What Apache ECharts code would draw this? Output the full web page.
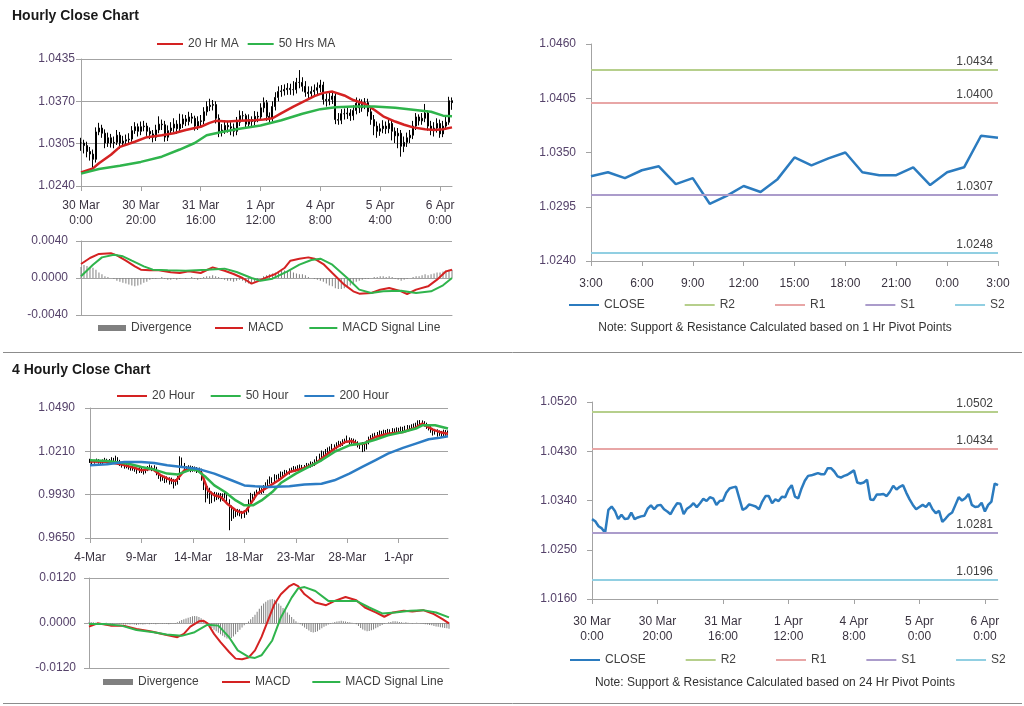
<!DOCTYPE html>
<html><head><meta charset="utf-8">
<script src="https://cdn.jsdelivr.net/npm/echarts@6/dist/echarts.min.js"></script>
<style>html,body{margin:0;padding:0;background:#fff}#c{width:1024px;height:706px}</style>
</head><body><div id="c"></div>
<script>
// ---------------- Hourly (30 Mar - 6 Apr) ----------------
const hourlyTicks = ['30 Mar\n0:00','30 Mar\n20:00','31 Mar\n16:00','1 Apr\n12:00','4 Apr\n8:00','5 Apr\n4:00','6 Apr\n0:00'];
const hourlyTicksPivot = ['30 Mar\n0:00','30 Mar\n20:00','31 Mar\n16:00','1 Apr\n12:00','4 Apr\n8:00','5 Apr\n0:00','6 Apr\n0:00'];
const hourlyClose = [
1.0306,1.0302,1.0293,1.0289,1.0281,1.0323,1.0329,1.0321,1.0306,1.0314,
1.0306,1.0307,1.0318,1.0306,1.0309,1.0311,1.0312,1.0325,1.0331,1.0324,
1.0331,1.0332,1.0324,1.0320,1.0315,1.0326,1.0335,1.0334,1.0315,1.0325,
1.0329,1.0335,1.0328,1.0335,1.0343,1.0339,1.0346,1.0344,1.0332,1.0339,
1.0340,1.0354,1.0362,1.0364,1.0365,1.0344,1.0323,1.0326,1.0333,1.0331,
1.0329,1.0324,1.0338,1.0348,1.0348,1.0335,1.0342,1.0339,1.0347,1.0346,
1.0360,1.0368,1.0347,1.0344,1.0362,1.0376,1.0385,1.0386,1.0388,1.0390,
1.0388,1.0388,1.0399,1.0399,1.0393,1.0384,1.0382,1.0385,1.0387,1.0391,
1.0395,1.0373,1.0371,1.0373,1.0378,1.0342,1.0341,1.0351,1.0351,1.0352,
1.0348,1.0356,1.0367,1.0360,1.0365,1.0368,1.0354,1.0342,1.0332,1.0324,
1.0328,1.0332,1.0328,1.0336,1.0324,1.0317,1.0321,1.0301,1.0307,1.0314,
1.0318,1.0332,1.0346,1.0340,1.0344,1.0352,1.0332,1.0328,1.0329,1.0336,
1.0320,1.0332,1.0338,1.0371,1.0368];
const hourlyHigh = [
1.0314,1.0311,1.0308,1.0300,1.0296,1.0330,1.0337,1.0334,1.0327,1.0322,
1.0320,1.0316,1.0326,1.0323,1.0317,1.0319,1.0321,1.0332,1.0338,1.0336,
1.0339,1.0340,1.0337,1.0330,1.0326,1.0334,1.0347,1.0342,1.0340,1.0333,
1.0338,1.0344,1.0341,1.0351,1.0350,1.0349,1.0354,1.0352,1.0348,1.0347,
1.0349,1.0361,1.0370,1.0374,1.0372,1.0370,1.0350,1.0335,1.0341,1.0340,
1.0338,1.0336,1.0346,1.0356,1.0355,1.0351,1.0350,1.0347,1.0355,1.0354,
1.0367,1.0376,1.0372,1.0353,1.0370,1.0384,1.0393,1.0395,1.0396,1.0398,
1.0397,1.0401,1.0406,1.0418,1.0407,1.0401,1.0393,1.0393,1.0396,1.0399,
1.0403,1.0400,1.0382,1.0384,1.0386,1.0384,1.0352,1.0358,1.0359,1.0360,
1.0358,1.0364,1.0376,1.0374,1.0373,1.0375,1.0374,1.0361,1.0349,1.0339,
1.0336,1.0341,1.0339,1.0344,1.0342,1.0330,1.0329,1.0326,1.0316,1.0322,
1.0326,1.0340,1.0352,1.0350,1.0352,1.0366,1.0356,1.0340,1.0338,1.0344,
1.0342,1.0340,1.0346,1.0377,1.0376];
const hourlyLow = [
1.0294,1.0290,1.0284,1.0279,1.0268,1.0276,1.0318,1.0314,1.0298,1.0300,
1.0299,1.0298,1.0303,1.0297,1.0300,1.0302,1.0304,1.0308,1.0320,1.0316,
1.0318,1.0324,1.0317,1.0312,1.0307,1.0309,1.0321,1.0326,1.0308,1.0309,
1.0319,1.0323,1.0320,1.0322,1.0329,1.0332,1.0333,1.0336,1.0325,1.0326,
1.0331,1.0335,1.0348,1.0355,1.0356,1.0336,1.0315,1.0316,1.0320,1.0322,
1.0318,1.0316,1.0318,1.0332,1.0340,1.0328,1.0329,1.0331,1.0333,1.0338,
1.0340,1.0353,1.0340,1.0337,1.0339,1.0356,1.0370,1.0377,1.0379,1.0380,
1.0380,1.0379,1.0382,1.0390,1.0385,1.0377,1.0374,1.0375,1.0378,1.0380,
1.0384,1.0365,1.0362,1.0364,1.0366,1.0335,1.0334,1.0335,1.0342,1.0343,
1.0340,1.0341,1.0350,1.0352,1.0354,1.0358,1.0347,1.0334,1.0318,1.0314,
1.0317,1.0321,1.0320,1.0321,1.0310,1.0306,1.0298,1.0285,1.0292,1.0300,
1.0306,1.0312,1.0326,1.0333,1.0334,1.0338,1.0325,1.0318,1.0316,1.0322,
1.0314,1.0315,1.0326,1.0334,1.0357];
const hourlyMA20 = [[0,1.0261],[4,1.0267],[6,1.0275],[10,1.0288],[13,1.0300],[18,1.0308],[22,1.0315],[27,1.0318],[31,1.0321],[35,1.0326],[40,1.0331],[43,1.0337],[45,1.0340],[49,1.0339],[53,1.0340],[58,1.0341],[61,1.0342],[64,1.0344],[67,1.0352],[71,1.0362],[75,1.0371],[78,1.0378],[81,1.0383],[84,1.0385],[88,1.0379],[91,1.0372],[95,1.0366],[98,1.0357],[101,1.0347],[105,1.0339],[108,1.0334],[111,1.0330],[115,1.0327],[118,1.0326],[121,1.0327],[124,1.0330]];
const hourlyMA50 = [[0,1.0259],[6,1.0266],[13,1.0271],[20,1.0277],[27,1.0285],[33,1.0296],[38,1.0306],[42,1.0318],[47,1.0323],[53,1.0328],[60,1.0333],[67,1.0341],[74,1.0351],[80,1.0358],[85,1.0361],[91,1.0362],[98,1.0362],[105,1.0360],[111,1.0357],[117,1.0354],[121,1.0348],[124,1.0347]];
const hourlyMacd = [[0,0.00151],[3,0.00216],[6,0.0026],[10,0.00267],[12,0.00245],[15,0.00187],[18,0.00126],[20,0.0009],[23,0.00083],[26,0.00083],[30,0.00061],[33,0.00054],[36,0.00072],[40,0.00054],[44,0.00115],[48,0.00079],[51,0.00043],[54,0],[57,-0.00061],[59,-0.00036],[62,0.00007],[65,0.00043],[68,0.00108],[70,0.00187],[73,0.00209],[76,0.00223],[78,0.00209],[81,0.00151],[84,0.00054],[88,-0.00072],[91,-0.00144],[93,-0.00169],[97,-0.00162],[100,-0.00126],[103,-0.00108],[107,-0.00144],[109,-0.00173],[112,-0.00126],[116,-0.0009],[119,-0.00018],[122,0.00072],[124,0.0009]];
const hourlySignal = [[0,0.00018],[4,0.00144],[7,0.00223],[11,0.00252],[14,0.00234],[17,0.00187],[21,0.00126],[24,0.0009],[29,0.00083],[35,0.00079],[42,0.0009],[48,0.00101],[52,0.00065],[57,0],[60,-0.00029],[64,-0.00007],[69,0.00072],[73,0.00144],[77,0.00195],[80,0.00209],[84,0.00144],[89,0],[93,-0.00126],[97,-0.00162],[101,-0.00144],[107,-0.00137],[112,-0.00162],[117,-0.00144],[121,-0.00079],[124,0]];
const hourlyDiv = [
0.0012,0.0014,0.0013,0.0012,0.0011,0.0009,0.0006,0.0004,0.0002,0.0001,
0,-0.0001,-0.0003,-0.0004,-0.0005,-0.0006,-0.0007,-0.0008,-0.0009,-0.0008,
-0.0007,-0.0005,-0.0004,-0.0002,-0.0001,-0.0001,0,0.0001,-0.0001,-0.0002,
-0.0002,-0.0001,-0.0002,-0.0001,0,-0.0001,0,0.0001,-0.0001,-0.0002,
-0.0001,0.0001,0.0002,0.0002,0.0003,0.0002,0.0001,-0.0001,-0.0002,-0.0003,
-0.0003,-0.0004,-0.0003,-0.0002,-0.0003,-0.0005,-0.0006,-0.0005,-0.0004,-0.0002,
0,0.0002,0.0003,0.0004,0.0005,0.0006,0.0007,0.0008,0.0008,0.0007,
0.0008,0.0006,0.0005,0.0004,0.0004,0.0003,0.0001,0,-0.0001,-0.0002,
-0.0003,-0.0004,-0.0006,-0.0008,-0.0009,-0.0011,-0.0012,-0.0012,-0.0011,-0.0010,
-0.0008,-0.0006,-0.0004,-0.0003,-0.0002,-0.0001,-0.0001,0,0.0001,0.0001,
0.0002,0.0002,0.0001,0.0002,0.0001,-0.0001,-0.0002,-0.0003,-0.0002,-0.0001,
0,0.0001,0.0002,0.0002,0.0003,0.0004,0.0003,0.0004,0.0005,0.0006,
0.0006,0.0007,0.0008,0.0009,0.0009];

// ---------------- Hourly pivot (last 24 hours) ----------------
const pivotHours = ['3:00','4:00','5:00','6:00','7:00','8:00','9:00','10:00','11:00','12:00','13:00','14:00','15:00','16:00','17:00','18:00','19:00','20:00','21:00','22:00','23:00','0:00','1:00','2:00','3:00'];
const pivotClose = [1.0326,1.0330,1.0324,1.0332,1.0336,1.0318,1.0324,1.0298,1.0306,1.0316,1.0310,1.0323,1.0345,1.0337,1.0344,1.0350,1.0330,1.0327,1.0327,1.0335,1.0317,1.0330,1.0335,1.0367,1.0365];
const pivotNames = ['R2','R1','S1','S2'];
const pivot1hLevels = [1.0434, 1.0400, 1.0307, 1.0248];
const pivot1hLabels = ['1.0434','1.0400','1.0307','1.0248'];
const pivot24hLevels = [1.0502, 1.0434, 1.0281, 1.0196];
const pivot24hLabels = ['1.0502','1.0434','1.0281','1.0196'];

// ---------------- 4 Hourly (4 Mar - 6 Apr) ----------------
const fourTicks = ['4-Mar','9-Mar','14-Mar','18-Mar','23-Mar','28-Mar','1-Apr'];
const fourClose = [
1.0150,1.0138,1.0145,1.0152,1.0140,1.0135,1.0148,1.0155,1.0142,1.0150,
1.0160,1.0145,1.0165,1.0150,1.0128,1.0120,1.0110,1.0125,1.0105,1.0098,
1.0102,1.0090,1.0080,1.0095,1.0085,1.0078,1.0090,1.0100,1.0108,1.0095,
1.0102,1.0070,1.0050,1.0035,1.0040,1.0025,1.0030,1.0015,1.0020,1.0005,
1.0010,1.0030,1.0150,1.0120,1.0100,1.0095,1.0105,1.0090,1.0100,1.0095,
1.0085,1.0090,1.0040,0.9985,0.9940,0.9960,0.9935,0.9900,0.9930,0.9915,
0.9925,0.9905,0.9920,0.9930,0.9890,0.9840,0.9830,0.9800,0.9810,0.9820,
0.9810,0.9795,0.9815,0.9825,0.9880,0.9920,0.9905,0.9935,0.9945,0.9960,
0.9950,0.9975,0.9990,1.0010,1.0030,1.0020,1.0045,1.0040,1.0050,1.0065,
1.0060,1.0075,1.0070,1.0085,1.0090,1.0100,1.0092,1.0105,1.0110,1.0100,
1.0108,1.0120,1.0115,1.0130,1.0125,1.0140,1.0160,1.0175,1.0195,1.0185,
1.0205,1.0215,1.0225,1.0240,1.0230,1.0250,1.0260,1.0255,1.0270,1.0275,
1.0290,1.0270,1.0280,1.0275,1.0265,1.0250,1.0240,1.0255,1.0230,1.0265,
1.0290,1.0300,1.0310,1.0315,1.0320,1.0330,1.0325,1.0335,1.0330,1.0340,
1.0335,1.0345,1.0340,1.0350,1.0345,1.0355,1.0350,1.0360,1.0365,1.0358,
1.0370,1.0375,1.0380,1.0390,1.0400,1.0395,1.0385,1.0370,1.0360,1.0345,
1.0330,1.0340,1.0325,1.0330,1.0320,1.0335,1.0325,1.0330];
const fourHigh = [
1.0162,1.0158,1.0155,1.0163,1.0160,1.0150,1.0158,1.0168,1.0162,1.0160,
1.0172,1.0168,1.0182,1.0172,1.0155,1.0138,1.0130,1.0138,1.0132,1.0115,
1.0115,1.0110,1.0098,1.0108,1.0105,1.0095,1.0105,1.0115,1.0125,1.0118,
1.0120,1.0110,1.0082,1.0062,1.0058,1.0052,1.0048,1.0042,1.0040,1.0032,
1.0030,1.0050,1.0178,1.0170,1.0135,1.0115,1.0120,1.0118,1.0115,1.0112,
1.0108,1.0105,1.0098,1.0050,1.0000,0.9985,0.9975,0.9950,0.9948,0.9945,
0.9942,0.9940,0.9938,0.9945,0.9940,0.9900,0.9860,0.9845,0.9830,0.9838,
0.9835,0.9825,0.9830,0.9842,0.9900,0.9942,0.9935,0.9950,0.9962,0.9978,
0.9972,0.9992,1.0010,1.0028,1.0048,1.0042,1.0062,1.0058,1.0065,1.0080,
1.0078,1.0090,1.0088,1.0100,1.0105,1.0115,1.0112,1.0120,1.0125,1.0122,
1.0122,1.0135,1.0132,1.0145,1.0142,1.0158,1.0178,1.0195,1.0215,1.0210,
1.0225,1.0235,1.0242,1.0258,1.0255,1.0268,1.0278,1.0275,1.0288,1.0292,
1.0312,1.0300,1.0295,1.0292,1.0285,1.0275,1.0262,1.0270,1.0265,1.0280,
1.0305,1.0315,1.0325,1.0330,1.0335,1.0345,1.0342,1.0350,1.0348,1.0355,
1.0352,1.0360,1.0358,1.0365,1.0362,1.0370,1.0368,1.0375,1.0380,1.0378,
1.0385,1.0390,1.0395,1.0410,1.0412,1.0410,1.0405,1.0395,1.0382,1.0372,
1.0358,1.0355,1.0352,1.0345,1.0342,1.0350,1.0348,1.0345];
const fourLow = [
1.0135,1.0128,1.0130,1.0138,1.0130,1.0125,1.0128,1.0140,1.0132,1.0135,
1.0142,1.0135,1.0138,1.0138,1.0115,1.0105,1.0098,1.0100,1.0092,1.0085,
1.0085,1.0078,1.0065,1.0070,1.0070,1.0060,1.0068,1.0082,1.0092,1.0082,
1.0085,1.0055,1.0032,1.0015,1.0020,1.0005,1.0008,0.9995,0.9998,0.9970,
0.9988,0.9995,1.0025,1.0105,1.0085,1.0080,1.0082,1.0075,1.0078,1.0080,
1.0070,1.0072,1.0020,0.9960,0.9880,0.9905,0.9870,0.9875,0.9885,0.9895,
0.9900,0.9885,0.9890,0.9905,0.9870,0.9700,0.9760,0.9775,0.9785,0.9795,
0.9790,0.9775,0.9780,0.9800,0.9815,0.9870,0.9890,0.9895,0.9925,0.9935,
0.9935,0.9940,0.9965,0.9980,1.0000,1.0005,1.0010,1.0028,1.0030,1.0040,
1.0048,1.0050,1.0058,1.0060,1.0075,1.0080,1.0080,1.0085,1.0095,1.0088,
1.0090,1.0098,1.0102,1.0105,1.0112,1.0115,1.0130,1.0150,1.0165,1.0170,
1.0175,1.0195,1.0205,1.0215,1.0215,1.0222,1.0238,1.0240,1.0245,1.0258,
1.0265,1.0255,1.0258,1.0260,1.0250,1.0235,1.0225,1.0205,1.0210,1.0222,
1.0255,1.0280,1.0290,1.0298,1.0302,1.0308,1.0310,1.0315,1.0318,1.0320,
1.0322,1.0325,1.0328,1.0330,1.0332,1.0335,1.0338,1.0340,1.0348,1.0345,
1.0350,1.0358,1.0362,1.0370,1.0380,1.0380,1.0370,1.0355,1.0345,1.0330,
1.0312,1.0318,1.0305,1.0310,1.0302,1.0308,1.0310,1.0312];
const fourMA20 = [[0,1.0145],[8,1.0143],[15,1.0124],[21,1.0102],[24,1.0087],[29,1.0098],[33,1.0055],[38,1.0023],[40,1.0018],[44,1.0087],[49,1.0098],[52,1.0070],[55,0.9958],[58,0.9926],[61,0.9915],[64,0.9872],[68,0.9829],[71,0.9812],[73,0.9829],[75,0.9872],[78,0.9937],[83,0.9980],[88,1.0023],[93,1.0077],[99,1.0098],[105,1.0130],[110,1.0184],[114,1.0227],[119,1.0270],[122,1.0277],[125,1.0255],[128,1.0260],[133,1.0303],[139,1.0324],[146,1.0335],[152,1.0363],[155,1.0389],[160,1.0350],[164,1.0331],[167,1.0324]];
const fourMA50 = [[0,1.0152],[8,1.0148],[18,1.0130],[24,1.0109],[30,1.0092],[36,1.0066],[41,1.0061],[47,1.0092],[50,1.0087],[54,1.0044],[58,0.9990],[63,0.9947],[68,0.9893],[72,0.9861],[76,0.9861],[80,0.9893],[85,0.9947],[89,1.0005],[96,1.0066],[102,1.0109],[108,1.0152],[114,1.0206],[121,1.0249],[127,1.0260],[133,1.0285],[139,1.0313],[146,1.0335],[152,1.0357],[155,1.0378],[161,1.0378],[167,1.0357]];
const fourMA200 = [[0,1.0120],[8,1.0126],[16,1.0141],[24,1.0141],[30,1.0135],[36,1.0120],[43,1.0109],[50,1.0098],[58,1.0066],[66,1.0023],[72,0.9990],[77,0.9984],[83,0.9980],[93,0.9984],[100,0.9995],[108,1.0001],[114,1.0023],[121,1.0066],[127,1.0109],[133,1.0152],[139,1.0195],[146,1.0232],[152,1.0260],[158,1.0288],[163,1.0298],[167,1.0307]];
const fourMacd = [[0,-0.00097],[4,-0.00009],[10,-0.0007],[16,-0.0007],[22,-0.00158],[29,-0.00229],[35,-0.00308],[41,-0.00378],[44,-0.0029],[47,-0.00097],[51,0.00044],[53,0.00062],[55,-0.00009],[58,-0.0029],[61,-0.0051],[65,-0.00774],[68,-0.0095],[71,-0.00967],[74,-0.00923],[77,-0.0073],[80,-0.00378],[83,0.00062],[86,0.00501],[89,0.00765],[93,0.00985],[95,0.01046],[97,0.00985],[100,0.00765],[105,0.00545],[110,0.00475],[114,0.00589],[119,0.00694],[124,0.00607],[128,0.00413],[133,0.00281],[137,0.00167],[141,0.00281],[146,0.00325],[150,0.00308],[155,0.00343],[160,0.00237],[164,0.00105],[167,-0.00009]];
const fourSignal = [[0,-0.00026],[7,-0.00026],[15,-0.0007],[22,-0.00185],[30,-0.00246],[36,-0.00308],[43,-0.00343],[49,-0.00246],[55,-0.00044],[60,-0.0007],[65,-0.00378],[69,-0.0073],[74,-0.00905],[77,-0.00932],[80,-0.00861],[85,-0.00466],[89,0.00149],[94,0.00677],[97,0.00923],[100,0.00958],[105,0.00853],[111,0.00589],[118,0.00589],[124,0.00589],[130,0.00413],[136,0.00255],[142,0.00281],[149,0.00325],[155,0.00343],[161,0.00281],[167,0.00149]];
const fourDiv = [
0.0002,0.0003,0.0002,0.0001,0.0001,0,-0.0001,0,0.0001,0,
-0.0001,-0.0002,-0.0001,-0.0002,-0.0003,-0.0002,-0.0003,-0.0004,-0.0003,-0.0004,
-0.0003,-0.0004,-0.0005,-0.0004,-0.0003,-0.0004,-0.0003,-0.0002,-0.0003,-0.0002,
-0.0002,-0.0003,-0.0002,-0.0001,-0.0002,-0.0001,-0.0002,-0.0003,-0.0002,-0.0001,
-0.0002,0.0002,0.0005,0.0008,0.0010,0.0012,0.0014,0.0016,0.0018,0.0019,
0.0018,0.0016,0.0013,0.0008,0.0003,-0.0003,-0.0008,-0.0013,-0.0018,-0.0022,
-0.0026,-0.0030,-0.0034,-0.0038,-0.0041,-0.0042,-0.0040,-0.0036,-0.0030,-0.0024,
-0.0018,-0.0012,-0.0006,-0.0002,0.0004,0.0010,0.0016,0.0022,0.0030,0.0038,
0.0046,0.0052,0.0057,0.0061,0.0063,0.0064,0.0062,0.0058,0.0052,0.0046,
0.0040,0.0034,0.0028,0.0022,0.0016,0.0010,0.0005,0.0001,-0.0003,-0.0007,
-0.0012,-0.0016,-0.0020,-0.0024,-0.0025,-0.0024,-0.0022,-0.0018,-0.0014,-0.0010,
-0.0007,-0.0004,-0.0002,0.0001,0.0003,0.0004,0.0005,0.0006,0.0005,0.0004,
0.0003,0.0002,0.0001,0,-0.0003,-0.0008,-0.0013,-0.0017,-0.0020,-0.0022,
-0.0021,-0.0019,-0.0017,-0.0014,-0.0011,-0.0008,-0.0005,-0.0002,0,0.0002,
0.0003,0.0005,0.0005,0.0004,0.0003,0.0002,0.0001,0.0002,0.0001,0,
-0.0001,0,0.0001,0,-0.0001,-0.0002,-0.0003,-0.0004,-0.0005,-0.0006,
-0.0008,-0.0009,-0.0010,-0.0011,-0.0012,-0.0013,-0.0014,-0.0015];

// ---------------- styling ----------------
const FONT = '"Liberation Sans", Arial, sans-serif';
const AX = '#a3a3a3';
const YLAB = '#55426a';
const XLAB = '#3a3340';
const TXT = '#404040';
const RED = '#d42222', GREEN = '#2fb44c', BLUE = '#2c7cc4', CLOSEC = '#2b7bbf', DIVC = '#808080';
const PIVC = ['#b6cf8c', '#e8a6a6', '#ab9ccb', '#91cfe2'];

// base offsets so that axis min is 0 (multiple of interval)
const BASE_HP = 1.0240, BASE_HR = 1.0240, BASE_FP = 0.9650, BASE_FR = 1.0160;

const chart = echarts.init(document.getElementById('c'), null, {renderer: 'canvas'});

function idx(n) { return Array.from({length: n}, (_, i) => i); }
function ohlc(close, high, low, base) {
  return close.map((c, i) => {
    const o = i > 0 ? close[i - 1] : c;
    return [o - base, c - base, low[i] - base, high[i] - base];
  });
}
function shift(pts, base) { return pts.map(p => [p[0], p[1] - base]); }
function catAxis(grid, n, step, labels, opt) {
  opt = opt || {};
  return {
    type: 'category', gridIndex: grid, data: idx(n), boundaryGap: false,
    axisLine: {show: true, onZero: false, lineStyle: {color: AX, width: 1}},
    axisTick: {show: opt.ticks !== false, interval: i => i % step === 0, length: 5, lineStyle: {color: AX}},
    axisLabel: {show: !!labels, interval: i => i % step === 0, formatter: labels ? (v, i) => labels[Math.round(i / step)] : '',
      color: XLAB, fontSize: 12, fontFamily: FONT, margin: opt.margin || 10, lineHeight: 15},
    splitLine: {show: false}
  };
}
function valX(grid, n) { return {type: 'value', gridIndex: grid, min: 0, max: n - 1, show: false}; }
function yAx(grid, min, max, interval, base, margin, split) {
  return {
    type: 'value', gridIndex: grid, min: min, max: max, interval: interval,
    axisLine: {show: true, lineStyle: {color: AX}},
    axisTick: {show: true, length: 5, lineStyle: {color: AX}},
    axisLabel: {formatter: v => (base + v).toFixed(4), color: YLAB, fontSize: 12, fontFamily: FONT, margin: margin},
    splitLine: {show: split, lineStyle: {color: AX, width: 1}}
  };
}
const lineS = (name, xi, yi, data, color, w) => ({
  name, type: 'line', xAxisIndex: xi, yAxisIndex: yi, data, showSymbol: false, symbol: 'none',
  lineStyle: {color, width: w}, itemStyle: {color}, z: 3
});
function pivotSeries(xi, yi, levels, labels, base) {
  return pivotNames.map((nm, k) => ({
    name: nm, type: 'line', xAxisIndex: xi, yAxisIndex: yi, data: [], symbol: 'none',
    lineStyle: {color: PIVC[k], width: 2}, itemStyle: {color: PIVC[k]},
    markLine: {
      silent: true, symbol: ['none', 'none'], animation: false, precision: 6,
      lineStyle: {color: PIVC[k], width: 2, type: 'solid'},
      label: {show: true, position: 'insideEndTop', formatter: labels[k], color: TXT, fontSize: 12, fontFamily: FONT, distance: [5, 2]},
      data: [{yAxis: levels[k] - base}]
    }
  }));
}
const candleStyle = {color: '#000', color0: '#000', borderColor: '#000', borderColor0: '#000', borderWidth: 1};
const legendBase = {selectedMode: false, padding: 0, icon: 'rect', itemHeight: 2,
  textStyle: {color: TXT, fontSize: 12, fontFamily: FONT}};

const option = {
  animation: false,
  backgroundColor: '#fff',
  grid: [
    {left: 81, top: 59, width: 371, height: 127},
    {left: 81, top: 241, width: 371, height: 74},
    {left: 591, top: 44, width: 407, height: 217},
    {left: 90, top: 408, width: 358, height: 130},
    {left: 89, top: 578, width: 360, height: 90},
    {left: 592, top: 402, width: 406, height: 197}
  ],
  xAxis: [
    catAxis(0, 125, 20, hourlyTicks, {margin: 12}),
    valX(0, 125),
    catAxis(1, 125, 20, null, {ticks: false}),
    valX(1, 125),
    catAxis(2, 25, 3, pivotHours.filter((_, i) => i % 3 === 0), {margin: 15}),
    catAxis(3, 168, 24, fourTicks, {margin: 12}),
    valX(3, 168),
    catAxis(4, 168, 24, null, {ticks: false}),
    valX(4, 168),
    catAxis(5, 125, 20, hourlyTicksPivot, {margin: 15})
  ],
  yAxis: [
    yAx(0, 0, 0.0195, 0.0065, BASE_HP, 6, true),
    yAx(1, -0.004, 0.004, 0.004, 0, 13, true),
    yAx(2, 0, 0.022, 0.0055, BASE_HR, 15, false),
    yAx(3, 0, 0.084, 0.028, BASE_FP, 15, true),
    yAx(4, -0.012, 0.012, 0.012, 0, 13, true),
    yAx(5, 0, 0.036, 0.009, BASE_FR, 15, false)
  ],
  legend: [
    Object.assign({}, legendBase, {left: 157, top: 38, itemWidth: 26, itemGap: 9, data: ['20 Hr MA', '50 Hrs MA']}),
    Object.assign({}, legendBase, {left: 98, top: 322, itemWidth: 28, itemHeight: 6, data: ['Divergence']}),
    Object.assign({}, legendBase, {left: 215, top: 322, itemWidth: 28, itemGap: 26, data: ['MACD', 'MACD Signal Line']}),
    Object.assign({}, legendBase, {left: 569, top: 299, itemWidth: 30, itemGap: 40, data: ['CLOSE', 'R2', 'R1', 'S1', 'S2']}),
    Object.assign({}, legendBase, {left: 117, top: 390, itemWidth: 30, itemGap: 16, data: ['20 Hour', '50 Hour', '200 Hour']}),
    Object.assign({}, legendBase, {left: 103, top: 676, itemWidth: 30, itemHeight: 6, data: ['Divergence']}),
    Object.assign({}, legendBase, {left: 222, top: 676, itemWidth: 28, itemGap: 22, data: ['MACD', 'MACD Signal Line']}),
    Object.assign({}, legendBase, {left: 570, top: 654, itemWidth: 30, itemGap: 40, data: ['CLOSE', 'R2', 'R1', 'S1', 'S2']})
  ],
  graphic: [
    {type: 'text', x: 12, y: 16, style: {text: 'Hourly Close Chart', font: 'bold 14px ' + FONT, fill: '#1a1a1a', verticalAlign: 'middle'}},
    {type: 'text', x: 12, y: 370, style: {text: '4 Hourly Close Chart', font: 'bold 14px ' + FONT, fill: '#1a1a1a', verticalAlign: 'middle'}},
    {type: 'text', x: 775, y: 328, style: {text: 'Note: Support & Resistance Calculated based on 1 Hr Pivot Points', font: '12px ' + FONT, fill: '#333', align: 'center', verticalAlign: 'middle'}},
    {type: 'text', x: 775, y: 683, style: {text: 'Note: Support & Resistance Calculated based on 24 Hr Pivot Points', font: '12px ' + FONT, fill: '#333', align: 'center', verticalAlign: 'middle'}},
    {type: 'line', shape: {x1: 3, y1: 352.5, x2: 1022, y2: 352.5}, style: {stroke: '#8c8c8c', lineWidth: 1}},
    {type: 'line', shape: {x1: 3, y1: 703.5, x2: 1022, y2: 703.5}, style: {stroke: '#8c8c8c', lineWidth: 1}}
  ],
  series: [
    // hourly price
    {name: 'Hourly', type: 'candlestick', xAxisIndex: 0, yAxisIndex: 0, barWidth: 1.5, itemStyle: candleStyle,
      data: ohlc(hourlyClose, hourlyHigh, hourlyLow, BASE_HP), z: 2},
    lineS('20 Hr MA', 1, 0, shift(hourlyMA20, BASE_HP), RED, 2.5),
    lineS('50 Hrs MA', 1, 0, shift(hourlyMA50, BASE_HP), GREEN, 2.5),
    // hourly macd
    {name: 'Divergence', type: 'bar', xAxisIndex: 2, yAxisIndex: 1, data: hourlyDiv, barWidth: 1, itemStyle: {color: DIVC}},
    lineS('MACD', 3, 1, hourlyMacd, RED, 2),
    lineS('MACD Signal Line', 3, 1, hourlySignal, GREEN, 2),
    // hourly pivot
    lineS('CLOSE', 4, 2, pivotClose.map(v => v - BASE_HR), CLOSEC, 2.5),
    ...pivotSeries(4, 2, pivot1hLevels, pivot1hLabels, BASE_HR),
    // 4h price
    {name: 'FourH', type: 'candlestick', xAxisIndex: 5, yAxisIndex: 3, barWidth: 1, itemStyle: candleStyle,
      data: ohlc(fourClose, fourHigh, fourLow, BASE_FP), z: 2},
    lineS('20 Hour', 6, 3, shift(fourMA20, BASE_FP), RED, 2.5),
    lineS('50 Hour', 6, 3, shift(fourMA50, BASE_FP), GREEN, 2.5),
    lineS('200 Hour', 6, 3, shift(fourMA200, BASE_FP), BLUE, 2.5),
    // 4h macd
    {name: 'Divergence', type: 'bar', xAxisIndex: 7, yAxisIndex: 4, data: fourDiv, barWidth: 1, itemStyle: {color: DIVC}},
    lineS('MACD', 8, 4, fourMacd, RED, 2),
    lineS('MACD Signal Line', 8, 4, fourSignal, GREEN, 2),
    // 24h pivot
    lineS('CLOSE', 9, 5, hourlyClose.map(v => v - BASE_FR), CLOSEC, 2.5),
    ...pivotSeries(9, 5, pivot24hLevels, pivot24hLabels, BASE_FR)
  ]
};
chart.setOption(option);
</script></body></html>
